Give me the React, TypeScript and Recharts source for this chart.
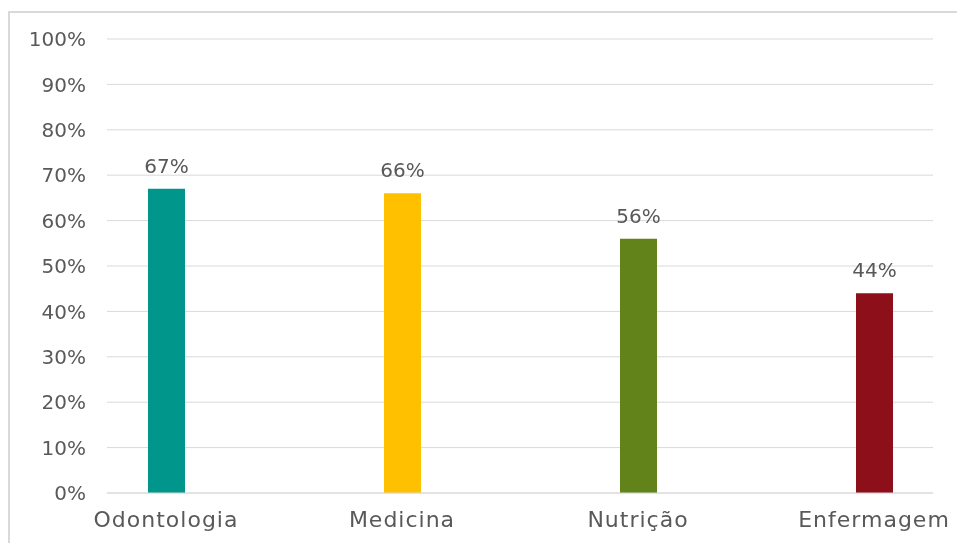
import React from "react";
import { BarChart, Bar, XAxis, YAxis, CartesianGrid, LabelList, Cell } from "recharts";

const categories = ["Odontologia", "Medicina", "Nutrição", "Enfermagem"];
const values = [0.67, 0.66, 0.56, 0.44];
const colors = ["#00968B", "#FFC000", "#61831A", "#8C0F19"];
const yTicks = [0, 0.1, 0.2, 0.3, 0.4, 0.5, 0.6, 0.7, 0.8, 0.9, 1];

const data = categories.map((c, i) => ({ name: c, value: values[i] }));
const pct = (v: number) => `${Math.round(v * 100)}%`;
const FONT = "'DejaVu Sans', sans-serif";

export default function App() {
  return (
    <div
      style={{
        position: "fixed",
        top: 11,
        left: 8,
        width: 1000,
        height: 600,
        borderTop: "2px solid #d9d9d9",
        borderLeft: "2px solid #d9d9d9",
        boxSizing: "border-box",
        fontFamily: FONT,
      }}
    >
      <BarChart
        width={947}
        height={530}
        data={data}
        margin={{ top: 26, right: 24, bottom: 0, left: 0 }}
      >
        <CartesianGrid vertical={false} stroke="#d9d9d9" strokeWidth={1} />
        <XAxis
          dataKey="name"
          padding={{ left: -59, right: -59 }}
          height={50}
          tickLine={false}
          tickSize={0}
          tickMargin={18}
          axisLine={{ stroke: "#d9d9d9" }}
          tick={{ fill: "#595959", fontSize: 22, fontFamily: FONT, letterSpacing: 1 }}
          interval={0}
        />
        <YAxis
          width={97}
          domain={[0, 1]}
          ticks={yTicks}
          tickFormatter={pct}
          axisLine={false}
          tickLine={false}
          tickSize={0}
          tickMargin={21}
          tick={{ fill: "#595959", fontSize: 20, fontFamily: FONT }}
        />
        <Bar dataKey="value" barSize={37} isAnimationActive={false}>
          {data.map((d, i) => (
            <Cell key={d.name} fill={colors[i]} />
          ))}
          <LabelList
            dataKey="value"
            position="top"
            offset={16}
            formatter={(v: any) => pct(Number(v))}
            fill="#595959"
            fontSize={20}
            fontFamily={FONT}
          />
        </Bar>
      </BarChart>
    </div>
  );
}
